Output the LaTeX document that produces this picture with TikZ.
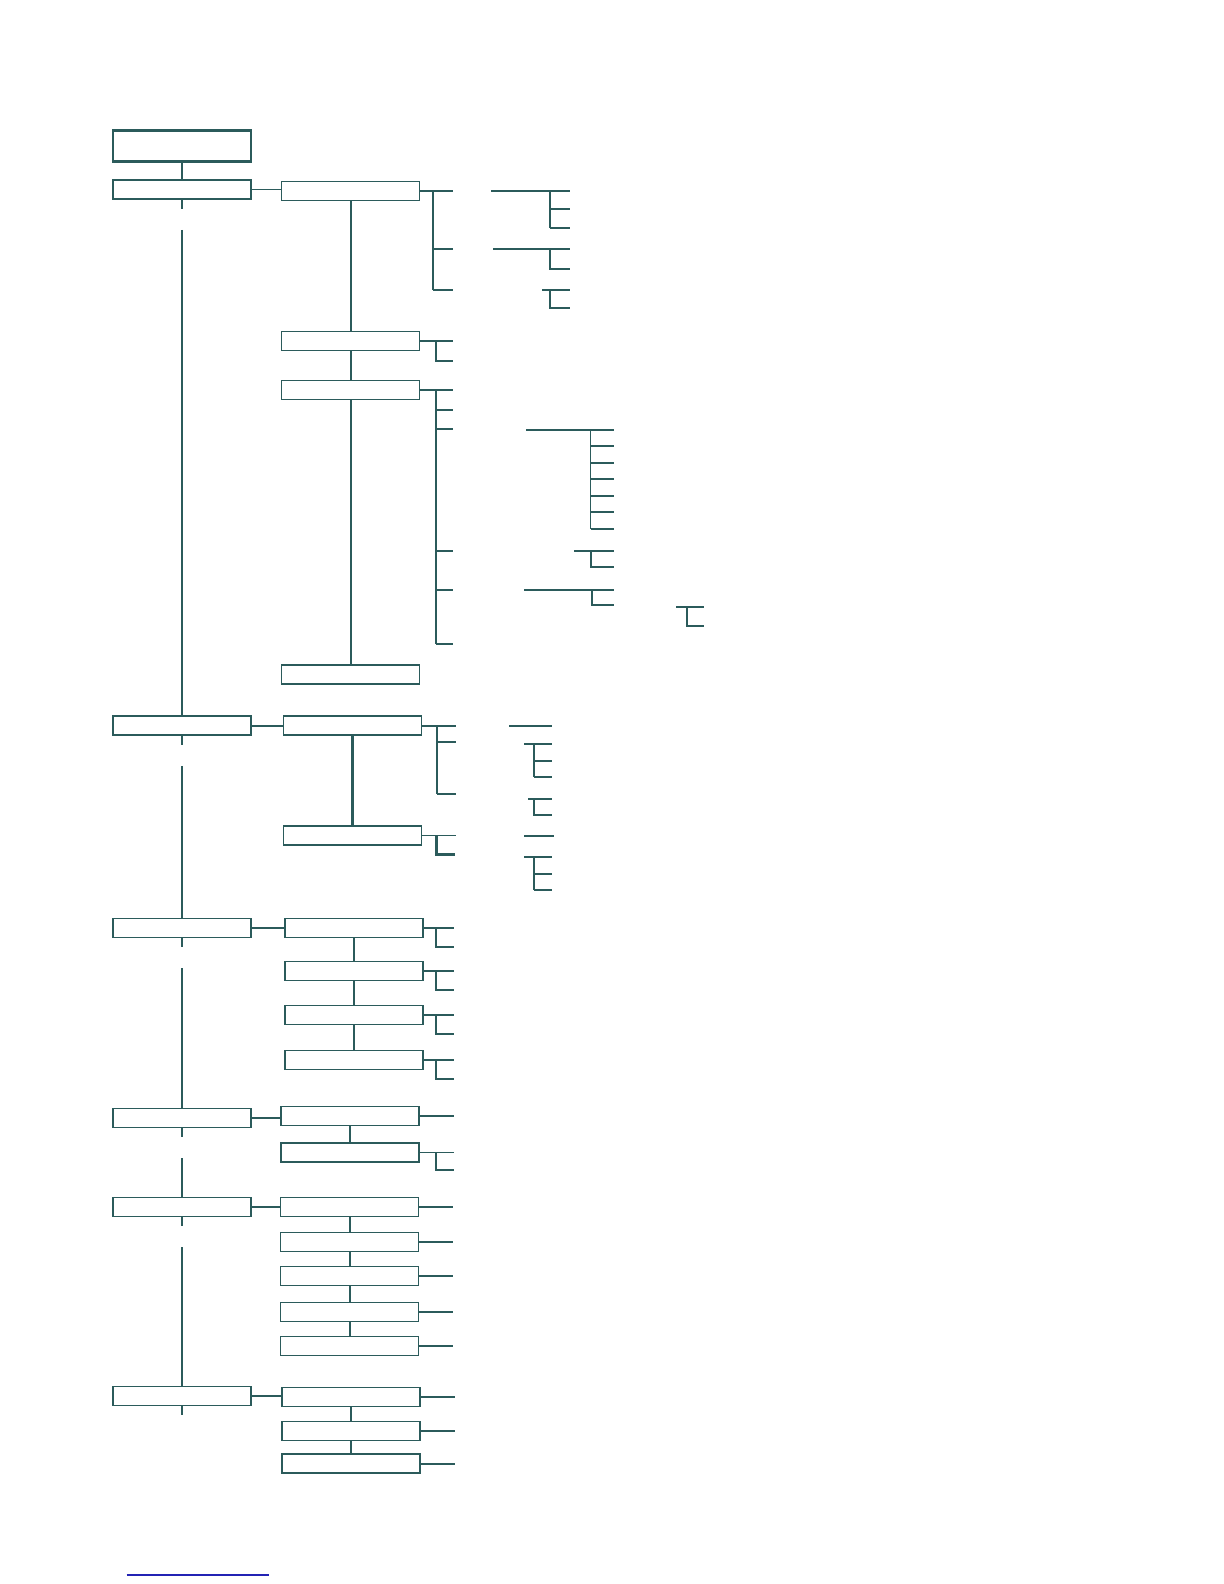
\documentclass[tikz,border=0pt]{standalone}
\usepackage{xcolor}
\usepackage{tikz}
\usetikzlibrary{calc}
\definecolor{ink}{HTML}{2B5B5B}
\definecolor{rulecol}{HTML}{2323B4}

\begin{document}
\begin{tikzpicture}[x=0.5pt,y=-0.5pt,color=ink,line width=1pt,
  box/.style={draw=ink,line width=0.75pt,fill=white,minimum width=69pt,minimum height=9.5pt,inner sep=0pt},
  topbox/.style={box,minimum height=15pt}]
  \useasboundingbox (0,0) rectangle (1224,1584);

  % left column
  \node[topbox] (top) at (182,146) {};
  \draw[line width=1.6pt] (top.north west) -- (top.north east);
  \draw[line width=1.6pt] (top.south west) -- (top.south east);
  \node[box] (a) at (182,189.7) {};
  \node[box] (b) at (182,725.5) {};
  \node[box] (c) at (182,928) {};
  \node[box] (d) at (182,1118) {};
  \node[box] (e) at (182,1207) {};
  \node[box] (f) at (182,1396) {};
  \draw (top) -- (a);
  \foreach \u/\v in {a/b,b/c,c/d,d/e,e/f}{
    \draw (\u.south) -- ++(0,9);
    \draw ($(\u.south)+(0,30)$) -- (\v.north);
  }
  \draw (f.south) -- ++(0,9);

  % group a
  \node[box] (a1) at (350.5,190.8) {};
  \node[box] (a2) at (350.5,341.2) {};
  \node[box] (a3) at (350.5,390) {};
  \node[box] (a4) at (350.5,674.5) {};
  \draw[line width=0.75pt] (a.east) -- (a.east -| a1.west);
  \draw (a1) -- (a2) (a2) -- (a3) (a3) -- (a4);
  \draw[line width=0.75pt] (a1.east) -- (453,190.8);
  \draw[line width=1.4pt] (433,190.8) -- (433,290);
  \foreach \y in {249,290} \draw (433,\y) -- (453,\y);
  \draw (491,190.8) -- (570,190.8);
  \draw (550,190.8) -- (550,228.3);
  \foreach \y in {209,228.3} \draw (550,\y) -- (570,\y);
  \draw (493,249) -- (570,249) (550,249) |- (570,269);
  \draw (542,290) -- (570,290) (550,290) |- (570,308.3);
  \draw (a2.east) -- ++(33,0) (a2.east) ++(16,0) |- ++(17,20);
  \draw (a3.east) -- ++(33,0);
  \draw (436,390) -- (436,644.3);
  \foreach \y in {409.7,428.7,550.7,589.7,644.3} \draw (436,\y) -- (453,\y);
  \draw (526,430) -- (614,430);
  \draw[line width=0.75pt] (590.5,430) -- (590.5,528.7);
  \foreach \y in {445.7,462.7,478.7,496,512.3,528.7} \draw (590.5,\y) -- (614,\y);
  \draw (574,551) -- (614,551) (590.5,551) |- (614,567);
  \draw (524,590) -- (614,590) (591.5,590) |- (614,605);
  \draw (676,606.7) -- (704,606.7) (686.7,606.7) |- (704,626);

  % group b
  \node[box] (b1) at (352.5,725.5) {};
  \node[box] (b2) at (352.5,835.7) {};
  \draw (b.east) -- (b.east -| b1.west);
  \draw[line width=1.4pt] (b1) -- (b2);
  \draw (b1.east) -- (455.7,725.5);
  \draw (436.7,725.5) -- (436.7,794.3);
  \foreach \y in {742,794.3} \draw (436.7,\y) -- (455.7,\y);
  \draw (509.3,725.7) -- (551.7,725.7);
  \draw (524,743.7) -- (551.7,743.7);
  \draw (534,743.7) -- (534,777.3);
  \foreach \y in {761,777.3} \draw (534,\y) -- (551.7,\y);
  \draw (528.3,798.7) -- (551.7,798.7) (534,798.7) |- (551.7,815);
  \draw[line width=0.75pt] (b2.east) -- ++(34,0);
  \draw[line width=1.4pt] (b2.east) ++(14,0) |- ++(18.3,19);
  \draw (524,836) -- (554,836);
  \draw (524,856.7) -- (551.7,856.7);
  \draw (534,856.7) -- (534,890.3);
  \foreach \y in {873.7,890.3} \draw (534,\y) -- (551.7,\y);

  % group c
  \foreach \y [count=\i] in {928,971,1015,1059.8}
    \node[box] (c\i) at (354,\y) {};
  \draw (c.east) -- (c.east -| c1.west);
  \foreach \i/\j in {1/2,2/3,3/4} \draw (c\i) -- (c\j);
  \foreach \i in {1,...,4}
    \draw (c\i.east) -- ++(30,0) (c\i.east) ++(12,0) |- ++(18,19);

  % group d
  \node[box] (d1) at (350,1116) {};
  \node[box] (d2) at (350,1152.7) {};
  \draw (d.east) -- (d.east -| d1.west);
  \draw (d1) -- (d2);
  \draw (d1.east) -- ++(34,0);
  \draw[line width=0.75pt] (d2.east) -- ++(34,0);
  \draw (d2.east) ++(16,0) |- ++(18,17);

  % group e
  \foreach \y [count=\i] in {1206.8,1242,1276.2,1311.8,1346.2}
    \node[box] (e\i) at (349.5,\y) {};
  \draw (e.east) -- (e.east -| e1.west);
  \foreach \i/\j in {1/2,2/3,3/4,4/5} \draw (e\i) -- (e\j);
  \foreach \i in {1,...,5} \draw (e\i.east) -- ++(34,0);

  % group f
  \foreach \y [count=\i] in {1396.8,1430.8,1463.7}
    \node[box] (f\i) at (351,\y) {};
  \draw (f.east) -- (f.east -| f1.west);
  \foreach \i/\j in {1/2,2/3} \draw (f\i) -- (f\j);
  \foreach \i in {1,...,3} \draw (f\i.east) -- ++(34,0);

  % footnote rule
  \draw[rulecol,line width=0.6pt] (126.7,1575) -- (269,1575);
\end{tikzpicture}
\end{document}
